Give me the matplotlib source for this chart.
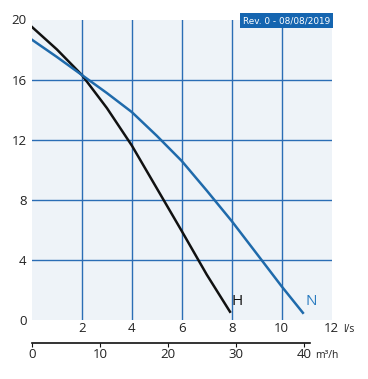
import matplotlib.pyplot as plt

# pump curves (flow in l/s, head)
q_h = [0, 1, 2, 3, 4, 5, 6, 7, 7.93]
head_h = [19.5, 18.0, 16.3, 14.1, 11.6, 8.75, 5.9, 3.0, 0.53]

q_n = [0, 1, 2, 3, 4, 5, 6, 7, 8, 9, 10, 10.85]
head_n = [18.65, 17.5, 16.3, 15.1, 13.83, 12.25, 10.57, 8.6, 6.57, 4.4, 2.22, 0.46]

ls_ticks = [2, 4, 6, 8, 10, 12]
m3h_ticks = [0, 10, 20, 30, 40]
head_ticks = [0, 4, 8, 12, 16, 20]

grid_blue = '#2a6db5'
curve_blue = '#1f6aab'
font = ['Open Sans', 'DejaVu Sans']
plt.rcParams['font.family'] = font

W, H = 368, 379
fig = plt.figure(figsize=(W / 100, H / 100), dpi=100)

# main axes
left, right, top, bottom = 32, 331.6, 19.5, 319.7
ax = fig.add_axes([left / W, 1 - bottom / H, (right - left) / W, (bottom - top) / H])
ax.set_facecolor('#eef3f8')
ax.set_xlim(0, 12)
ax.set_ylim(0, 19.8)
for s in ax.spines.values():
    s.set_visible(False)

for x in ls_ticks[:-1]:
    ax.axvline(x, color=grid_blue, lw=1.0, zorder=1)
for y in head_ticks[1:-1]:
    ax.axhline(y, color=grid_blue, lw=1.0, zorder=1)

ax.plot(q_h, head_h, color='#111111', lw=1.8, zorder=3)
ax.plot(q_n, head_n, color=curve_blue, lw=1.8, zorder=3)
ax.text(8.0, 1.2, 'H', color='#111111', fontsize=11, va='center', ha='left')
ax.text(10.95, 1.2, 'N', color='#2a7bc0', fontsize=11, va='center', ha='left')

ax.set_yticks(head_ticks)
ax.set_yticklabels([str(t) for t in head_ticks], fontsize=9.5, color='#222222')
ax.set_xticks(ls_ticks)
ax.set_xticklabels([str(t) for t in ls_ticks], fontsize=9.5, color='#222222')
ax.tick_params(axis='both', length=0)
ax.tick_params(axis='x', pad=1.5)
ax.tick_params(axis='y', pad=4)
fig.text(343 / W, 1 - 330 / H, 'l/s', fontsize=7.5, color='#222222', va='center', ha='left')

# second flow scale in m3/h
y2 = 343
ax2 = fig.add_axes([left / W, 1 - y2 / H, (right - left) / W, 0.001])
ax2.set_xlim(0, 44.0)
ax2.patch.set_visible(False)
for name in ['top', 'left', 'right']:
    ax2.spines[name].set_visible(False)
ax2.spines['bottom'].set_bounds(0, 40.8)
ax2.spines['bottom'].set_linewidth(1.2)
ax2.spines['bottom'].set_color('#111111')
ax2.set_yticks([])
ax2.set_xticks(m3h_ticks)
ax2.set_xticklabels([str(t) for t in m3h_ticks], fontsize=9.5, color='#222222')
ax2.tick_params(axis='x', length=3, width=0.8, pad=0.5, color='#111111')
fig.text(315 / W, 1 - 355 / H, 'm³/h', fontsize=7.5, color='#222222', va='center', ha='left')

# revision stamp
fig.text(286.5 / W, 1 - 20.5 / H, 'Rev. 0 - 08/08/2019', fontsize=6.4, color='white',
         ha='center', va='center', family='DejaVu Sans',
         bbox=dict(boxstyle='square,pad=0.3', facecolor='#1565b0', edgecolor='none'))

fig.savefig('out.png', dpi=100)
